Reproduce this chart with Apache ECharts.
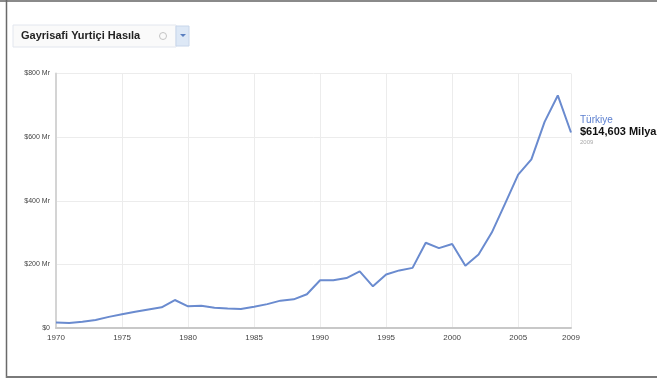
<!DOCTYPE html>
<html>
<head>
<meta charset="utf-8">
<script src="https://cdn.jsdelivr.net/npm/echarts@6/dist/echarts.min.js"></script>
<style>
  html, body { margin: 0; padding: 0; background: #fff; }
  #chart { width: 657px; height: 380px; }
</style>
</head>
<body>
<div id="chart"></div>
<script>
// Gross domestic product of Türkiye, billions of US dollars, 1970-2009
const years = [1970, 1971, 1972, 1973, 1974, 1975, 1976, 1977, 1978, 1979,
               1980, 1981, 1982, 1983, 1984, 1985, 1986, 1987, 1988, 1989,
               1990, 1991, 1992, 1993, 1994, 1995, 1996, 1997, 1998, 1999,
               2000, 2001, 2002, 2003, 2004, 2005, 2006, 2007, 2008, 2009];
const gdp = [17, 16, 20, 25, 35, 43, 51, 58, 65, 88,
             68, 70, 64, 61, 60, 67, 75, 86, 90, 106,
             150, 150, 157, 178, 131, 168, 181, 189, 268, 251,
             264, 196, 231, 300, 390, 482, 530, 648, 731, 614.603];
const yTicks = [0, 200, 400, 600, 800];
const seriesName = 'Türkiye';
const titleText = 'Gayrisafi Yurtiçi Hasıla';

const chart = echarts.init(document.getElementById('chart'));

function yLabel(v) {
  return v === 0 ? '$0' : '$' + v + ' Mr';
}

chart.setOption({
  animation: false,
  backgroundColor: '#ffffff',
  grid: { left: 56, right: 86, top: 73.5, bottom: 52 },
  xAxis: {
    type: 'value',
    min: years[0],
    max: years[years.length - 1],
    interval: 5,
    axisLine: { show: true, lineStyle: { color: '#c8c8c8', width: 2 } },
    axisTick: { show: false },
    axisLabel: {
      formatter: v => String(v),
      color: '#444',
      fontSize: 8,
      fontFamily: 'Arial, Liberation Sans, sans-serif',
      margin: 6
    },
    splitLine: { show: true, lineStyle: { color: '#ececec', width: 1 } }
  },
  yAxis: {
    type: 'value',
    min: yTicks[0],
    max: yTicks[yTicks.length - 1],
    interval: 200,
    axisLine: { show: true, lineStyle: { color: '#d4d4d4', width: 2 } },
    axisTick: { show: false },
    axisLabel: {
      formatter: yLabel,
      color: '#444',
      fontSize: 7,
      fontFamily: 'Arial, Liberation Sans, sans-serif',
      margin: 6
    },
    splitLine: { show: true, lineStyle: { color: '#ececec', width: 1 } }
  },
  series: [{
    name: seriesName,
    type: 'line',
    data: years.map((y, i) => [y, gdp[i]]),
    symbol: 'none',
    lineStyle: { color: '#6a8bcf', width: 2 },
    endLabel: {
      show: true,
      distance: 9,
      offset: [0, -2],
      formatter: p => '{n|' + seriesName + '}\n{v|$' + p.value[1].toFixed(3).replace('.', ',') + ' Milyar}\n{y|' + p.value[0] + '}',
      rich: {
        n: { color: '#5b7fcf', fontSize: 10, fontFamily: 'Arial, Liberation Sans, sans-serif', lineHeight: 11 },
        v: { color: '#111', fontSize: 11, fontWeight: 'bold', fontFamily: 'Arial, Liberation Sans, sans-serif', lineHeight: 12 },
        y: { color: '#aaa', fontSize: 6, fontFamily: 'Arial, Liberation Sans, sans-serif', lineHeight: 9 }
      }
    }
  }],
  graphic: [
    // outer frame
    { type: 'line', shape: { x1: 0, y1: 1, x2: 657, y2: 1 }, style: { stroke: '#8a8a8a', lineWidth: 2 } },
    { type: 'line', shape: { x1: 6.5, y1: 0, x2: 6.5, y2: 378 }, style: { stroke: '#6a6a6a', lineWidth: 1.5 } },
    { type: 'line', shape: { x1: 6, y1: 377, x2: 657, y2: 377 }, style: { stroke: '#7a7a7a', lineWidth: 2 } },
    // indicator selector box
    { type: 'rect', shape: { x: 13, y: 25, width: 163, height: 22 }, style: { fill: '#fafafa', stroke: '#e2e6ee', lineWidth: 1 } },
    { type: 'text', left: 21, top: 30, style: { text: titleText, fill: '#222', font: 'bold 11px Arial, Liberation Sans, sans-serif' } },
    { type: 'circle', shape: { cx: 163, cy: 36, r: 3.5 }, style: { fill: 'none', stroke: '#c4c4c4', lineWidth: 1 } },
    { type: 'rect', shape: { x: 176, y: 26, width: 13, height: 20 }, style: { fill: '#dde8f6', stroke: '#c8d6ea', lineWidth: 1 } },
    { type: 'polygon', shape: { points: [[180, 34], [186, 34], [183, 37]] }, style: { fill: '#5a7fc0' } }
  ]
});
</script>
</body>
</html>
